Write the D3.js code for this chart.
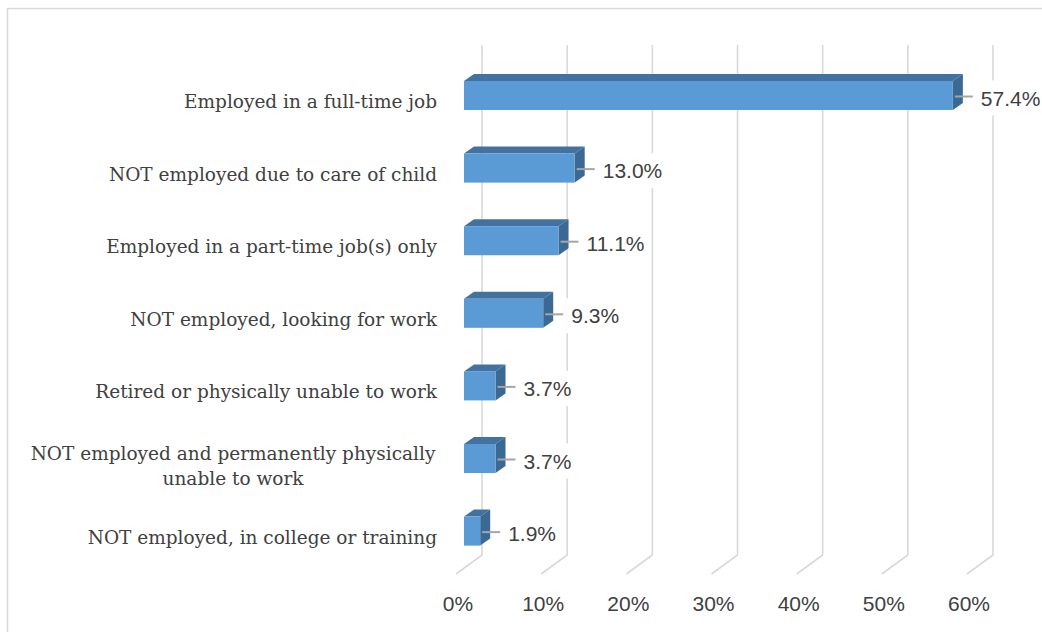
<!DOCTYPE html>
<html><head><meta charset="utf-8">
<script src="https://cdn.jsdelivr.net/npm/d3@7"></script>
<style>body{margin:0;background:#fff}svg{display:block}</style>
</head><body>
<svg id="c" width="1042" height="632"></svg>
<script>
const categories = [
  ["Employed in a full-time job"],
  ["NOT employed due to care of child"],
  ["Employed in a part-time job(s) only"],
  ["NOT employed, looking for work"],
  ["Retired or physically unable to work"],
  ["NOT employed and permanently physically", "unable to work"],
  ["NOT employed, in college or training"]
];
const values = [57.4, 13.0, 11.1, 9.3, 3.7, 3.7, 1.9];
const ticks = [0, 10, 20, 30, 40, 50, 60];

const svg = d3.select("#c");
const SERIF = "'DejaVu Serif', 'Liberation Serif', serif";
const SANS = "'Liberation Sans', Arial, sans-serif";
const FS = 18.5, NFS = 21;
const TXT = "#404040";

svg.append("rect").attr("x", 7.5).attr("y", 8.5).attr("width", 1040).attr("height", 630)
  .attr("fill", "#fff").attr("stroke", "#d9d9d9").attr("stroke-width", 1.5);

const x = d3.scaleLinear().domain([0, 60]).range([464, 975]);
const y = d3.scaleBand().domain(d3.range(categories.length)).range([59.2, 567.4])
  .paddingInner(0.6).paddingOuter(0.3);

const DX = 10, DY = 7, WX = 18, FX = -8;
const gTop = 45, gBot = 555, fBot = 574;

// gridlines (back wall + floor)
const grid = svg.append("g").attr("fill", "none").attr("stroke", "#d9d9d9").attr("stroke-width", 1.6);
ticks.forEach(t => {
  grid.append("path").attr("d", d3.line()([[x(t) + WX, gTop], [x(t) + WX, gBot], [x(t) + FX, fBot]]));
});

// tick labels
svg.append("g").selectAll("text").data(ticks).join("text")
  .attr("x", d => x(d) - 6).attr("y", 611).attr("text-anchor", "middle")
  .attr("font-family", SANS).attr("font-size", NFS).attr("fill", TXT)
  .text(d => d + "%");

// bars
const bars = svg.append("g");
values.forEach((v, i) => {
  const x0 = x(0), x1 = x(v), y0 = y(i), h = y.bandwidth();
  const g = bars.append("g");
  g.append("path").attr("fill", "#4472a0")
    .attr("d", d3.line()([[x0, y0], [x0 + DX, y0 - DY], [x1 + DX, y0 - DY], [x1, y0]]) + "Z");
  g.append("path").attr("fill", "#3b6994")
    .attr("d", d3.line()([[x1, y0], [x1 + DX, y0 - DY], [x1 + DX, y0 + h - DY], [x1, y0 + h]]) + "Z");
  g.append("rect").attr("x", x0).attr("y", y0).attr("width", x1 - x0).attr("height", h)
    .attr("fill", "#5b9bd5");
  const cy = y0 + h / 2 + 1;
  g.append("line").attr("x1", x1 + 2).attr("x2", x1 + 20).attr("y1", cy).attr("y2", cy)
    .attr("stroke", "#a6a6a6").attr("stroke-width", 2);
  const bg = g.append("rect").attr("fill", "#fff");
  const t = g.append("text").attr("x", x1 + 28).attr("y", cy + 9)
    .attr("font-family", SANS).attr("font-size", NFS).attr("fill", TXT)
    .text(v.toFixed(1) + "%");
  const b = t.node().getBBox();
  bg.attr("x", b.x - 5).attr("y", b.y - 6).attr("width", b.width + 10).attr("height", b.height + 12);
});

// category labels
const cat = svg.append("g").attr("font-family", SERIF).attr("font-size", FS).attr("fill", TXT);
categories.forEach((lines, i) => {
  const cy = y(i) + y.bandwidth() / 2 + 6;
  if (lines.length === 1) {
    cat.append("text").attr("x", 437).attr("y", cy).attr("dy", "0.35em")
      .attr("text-anchor", "end").text(lines[0]);
  } else {
    const t = cat.append("text").attr("text-anchor", "middle");
    lines.forEach((l, j) => {
      t.append("tspan").attr("x", 233).attr("y", cy - 11 + j * 25).attr("dy", "0.35em").text(l);
    });
  }
});
</script>
</body></html>
